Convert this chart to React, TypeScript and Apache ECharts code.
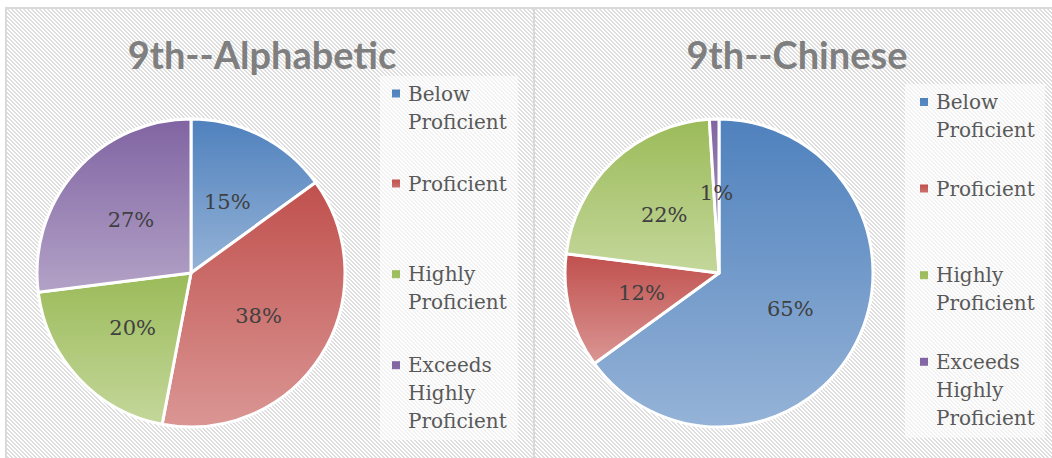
import React, { useEffect, useRef } from 'react';
import * as echarts from 'echarts';

// ---- data ----
const categories = ['Below Proficient', 'Proficient', 'Highly Proficient', 'Exceeds Highly Proficient'];
const alphabeticValues = [15, 38, 20, 27];
const chineseValues = [65, 12, 22, 1];
const chartTitles = ['9th--Alphabetic', '9th--Chinese'];
const seriesValues = [alphabeticValues, chineseValues];

// ---- styles / layout ----
const gradientTop = ['#4F81BD', '#C0504D', '#9BBB59', '#8064A2'];
const gradientBottom = ['#95B3D7', '#DA9694', '#C4D79B', '#B3A2C7'];
const pieCenters = [[191, 273], [719, 273]];
const pieRadius = 154;
const titleCenters = [[262, 54], [797, 54]];
const legendLefts = [392, 920];
const legendFirstLineY = [
  [93.5, 183.5, 274.2, 365.2],
  [102, 188.5, 275.2, 361.8],
];
const legendBoxes = [
  [380, 76, 138, 364],
  [905, 84, 140, 354],
];
const LINE_H = 28;

const tile =
  "<svg xmlns='http://www.w3.org/2000/svg' width='4' height='4' shape-rendering='crispEdges'>" +
  "<rect width='4' height='4' fill='#ffffff'/>" +
  "<path d='M0 0h2v1H0zM1 1h2v1H1zM2 2h2v1H2zM3 3h1v1H3zM0 3h1v1H0z' fill='#dedede'/></svg>";
const hatch = `url("data:image/svg+xml;utf8,${encodeURIComponent(tile)}")`;

function wrapName(n: string) {
  return n.split(' ').join('\n');
}

// legend marker: an 8x8 square at the top of a box as tall as the wrapped text
function markerPath(h: number) {
  return `path://M0,0L0,0M0,10L8,10L8,18L0,18ZM8,${h}L8,${h}`;
}

export default function App() {
  const ref = useRef<HTMLDivElement>(null);

  useEffect(() => {
    if (!ref.current) return;
    const chart = echarts.init(ref.current, null, { renderer: 'svg' });

    const series = seriesValues.map((vals, p) => ({
      type: 'pie',
      center: pieCenters[p],
      radius: pieRadius,
      startAngle: 90,
      clockwise: true,
      avoidLabelOverlap: false,
      emphasis: { disabled: true },
      itemStyle: { borderColor: '#ffffff', borderWidth: 3 },
      label: {
        show: true,
        position: 'inside',
        formatter: '{d}%',
        fontFamily: 'DejaVu Serif',
        fontSize: 21,
        color: '#404040',
      },
      labelLine: { show: false },
      data: categories.map((name, i) => ({
        name,
        value: vals[i],
        itemStyle: {
          color: new echarts.graphic.LinearGradient(0, 0, 0, 1, [
            { offset: 0, color: gradientTop[i] },
            { offset: 1, color: gradientBottom[i] },
          ]),
        },
      })),
    }));

    const legends: any[] = [];
    legendLefts.forEach((lx, p) => {
      categories.forEach((name, i) => {
        const lines = name.split(' ').length;
        const h = lines * LINE_H;
        legends.push({
          left: lx,
          top: legendFirstLineY[p][i] - LINE_H / 2,
          orient: 'vertical',
          padding: 0,
          icon: markerPath(h),
          itemWidth: 8,
          itemHeight: h,
          selectedMode: false,
          itemStyle: { borderWidth: 0 },
          textStyle: {
            fontFamily: 'DejaVu Serif',
            fontSize: 20,
            color: '#595959',
            lineHeight: LINE_H,
          },
          formatter: wrapName,
          data: [{ name, textStyle: { padding: [0, 0, 0, 3] } }],
        });
      });
    });

    const graphics: any[] = [];
    legendBoxes.forEach((b) => {
      graphics.push({
        type: 'rect',
        z: -1,
        shape: { x: b[0], y: b[1], width: b[2], height: b[3] },
        style: { fill: 'rgba(255,255,255,0.6)' },
      });
    });
    chartTitles.forEach((t, p) => {
      graphics.push({
        type: 'text',
        x: titleCenters[p][0],
        y: titleCenters[p][1],
        style: {
          text: t,
          align: 'center',
          verticalAlign: 'middle',
          fill: '#7F7F7F',
          fontFamily: 'Lato',
          fontWeight: 'bold',
          fontSize: 38,
        },
      });
    });

    chart.setOption({
      animation: false,
      backgroundColor: 'transparent',
      legend: legends,
      graphic: graphics,
      series,
    });

    return () => chart.dispose();
  }, []);

  return (
    <div style={{ position: 'fixed', left: 0, top: 0, width: 1052, height: 458, background: '#ffffff', overflow: 'hidden' }}>
      <div
        style={{
          position: 'absolute',
          left: 5,
          top: 7,
          right: 0,
          bottom: 0,
          backgroundImage: hatch,
          backgroundSize: '4px 4px',
          borderLeft: '2px solid #d9d9d9',
          borderTop: '2px solid #d9d9d9',
        }}
      />
      <div style={{ position: 'absolute', left: 533, top: 7, width: 2, bottom: 0, background: '#d9d9d9' }} />
      <div ref={ref} style={{ position: 'absolute', left: 0, top: 0, width: 1052, height: 458 }} />
    </div>
  );
}
